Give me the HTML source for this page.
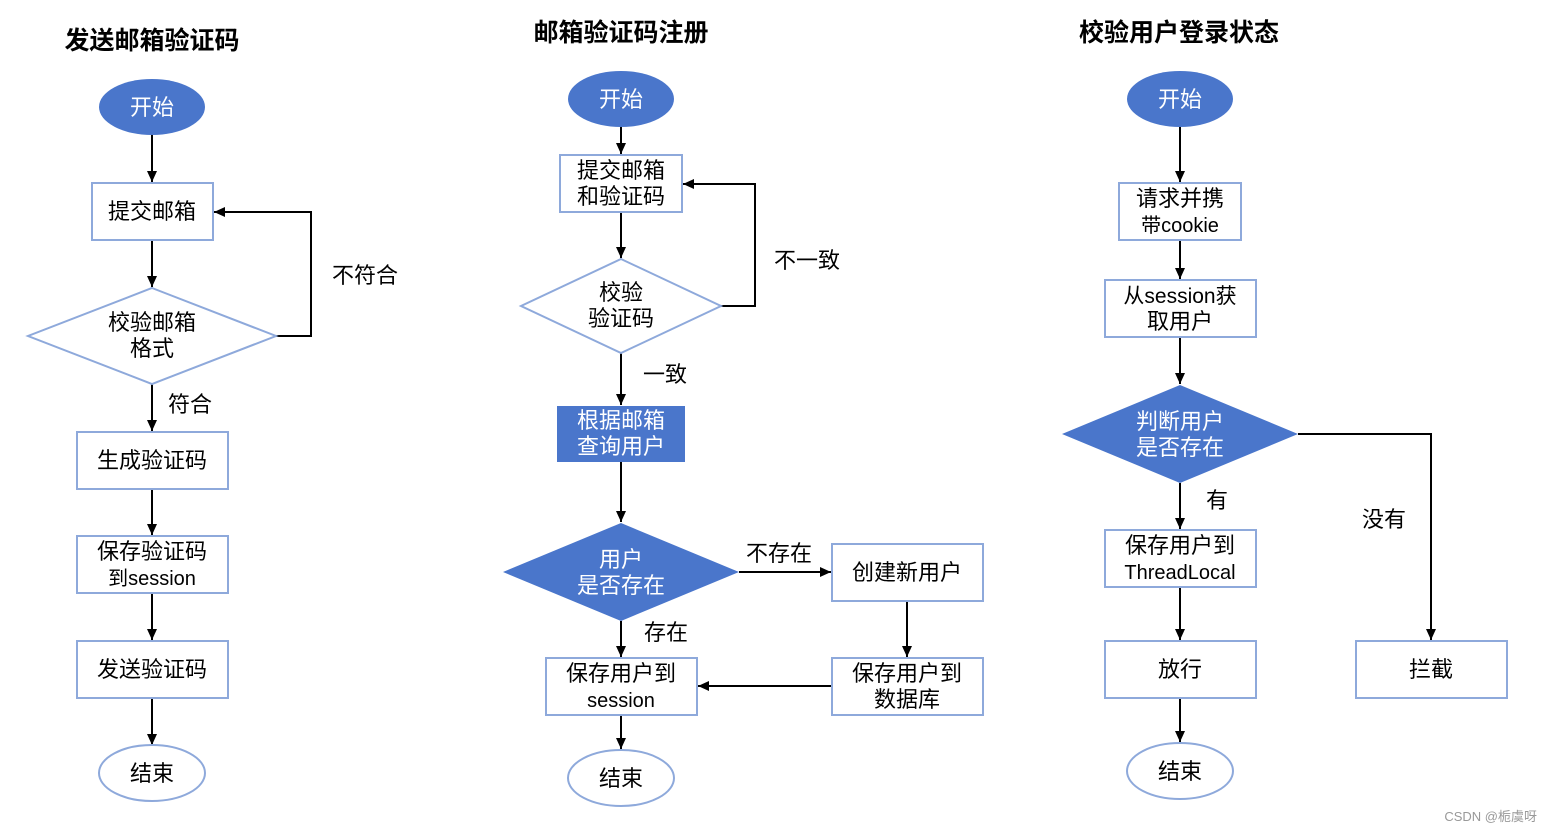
<!DOCTYPE html>
<html><head><meta charset="utf-8"><style>
html,body{margin:0;padding:0;background:#fff;}
svg text{font-family:"Liberation Sans","Noto Sans CJK SC",sans-serif;}
</style></head><body>
<svg width="1553" height="833" viewBox="0 0 1553 833" xmlns="http://www.w3.org/2000/svg">
<defs><marker id="a" markerWidth="12" markerHeight="12" refX="11" refY="6" orient="auto" markerUnits="userSpaceOnUse"><path d="M0,1 L11,6 L0,11 z" fill="#000"/></marker></defs>
<g font-size="25" font-weight="bold" fill="#000">
<text x="152" y="49" text-anchor="middle">发送邮箱验证码</text>
<text x="621" y="41" text-anchor="middle">邮箱验证码注册</text>
<text x="1179" y="41" text-anchor="middle">校验用户登录状态</text>
</g>
<g stroke="#000" stroke-width="2" fill="none" marker-end="url(#a)">
<line x1="152" y1="134" x2="152" y2="182"/>
<line x1="152" y1="240" x2="152" y2="287"/>
<polyline points="276,336 311,336 311,212 214,212"/>
<line x1="152" y1="384" x2="152" y2="431"/>
<line x1="152" y1="489" x2="152" y2="535"/>
<line x1="152" y1="593" x2="152" y2="640"/>
<line x1="152" y1="698" x2="152" y2="745"/>
<line x1="621" y1="126" x2="621" y2="154"/>
<line x1="621" y1="212" x2="621" y2="258"/>
<polyline points="721,306 755,306 755,184 683,184"/>
<line x1="621" y1="353" x2="621" y2="405"/>
<line x1="621" y1="462" x2="621" y2="522"/>
<line x1="739" y1="572" x2="831" y2="572"/>
<line x1="907" y1="601" x2="907" y2="657"/>
<line x1="832" y1="686" x2="698" y2="686"/>
<line x1="621" y1="621" x2="621" y2="657"/>
<line x1="621" y1="715" x2="621" y2="749"/>
<line x1="1180" y1="126" x2="1180" y2="182"/>
<line x1="1180" y1="240" x2="1180" y2="279"/>
<line x1="1180" y1="337" x2="1180" y2="384"/>
<polyline points="1298,434 1431,434 1431,640"/>
<line x1="1180" y1="483" x2="1180" y2="529"/>
<line x1="1180" y1="587" x2="1180" y2="640"/>
<line x1="1180" y1="698" x2="1180" y2="742"/>
</g>
<g fill="#4A76CB">
<ellipse cx="152" cy="107" rx="53" ry="28"/>
<ellipse cx="621" cy="99" rx="53" ry="28"/>
<ellipse cx="1180" cy="99" rx="53" ry="28"/>
<rect x="557" y="406" width="128" height="56"/>
<polygon points="621,523 739,572 621,621 503,572"/>
<polygon points="1180,385 1298,434 1180,483 1062,434"/>
</g>
<g fill="#fff" stroke="#8EA9DB" stroke-width="2">
<rect x="92" y="183" width="121" height="57"/>
<polygon points="152,288 276,336 152,384 28,336"/>
<rect x="77" y="432" width="151" height="57"/>
<rect x="77" y="536" width="151" height="57"/>
<rect x="77" y="641" width="151" height="57"/>
<ellipse cx="152" cy="773" rx="53" ry="28"/>
<rect x="560" y="155" width="122" height="57"/>
<polygon points="621,259 721,306 621,353 521,306"/>
<rect x="832" y="544" width="151" height="57"/>
<rect x="832" y="658" width="151" height="57"/>
<rect x="546" y="658" width="151" height="57"/>
<ellipse cx="621" cy="778" rx="53" ry="28"/>
<rect x="1119" y="183" width="122" height="57"/>
<rect x="1105" y="280" width="151" height="57"/>
<rect x="1105" y="530" width="151" height="57"/>
<rect x="1105" y="641" width="151" height="57"/>
<rect x="1356" y="641" width="151" height="57"/>
<ellipse cx="1180" cy="771" rx="53" ry="28"/>
</g>
<g font-size="22" fill="#fff" text-anchor="middle">
<text x="152" y="115">开始</text>
<text x="621" y="107">开始</text>
<text x="1180" y="107">开始</text>
<text x="621" y="428">根据邮箱</text><text x="621" y="454">查询用户</text>
<text x="621" y="567">用户</text><text x="621" y="593">是否存在</text>
<text x="1180" y="429">判断用户</text><text x="1180" y="455">是否存在</text>
</g>
<g font-size="22" fill="#000" text-anchor="middle">
<text x="152" y="219">提交邮箱</text>
<text x="152" y="330">校验邮箱</text><text x="152" y="356">格式</text>
<text x="152" y="468">生成验证码</text>
<text x="152" y="559">保存验证码</text><text x="152" y="585" font-size="20">到session</text>
<text x="152" y="677">发送验证码</text>
<text x="152" y="781">结束</text>
<text x="621" y="178">提交邮箱</text><text x="621" y="204">和验证码</text>
<text x="621" y="300">校验</text><text x="621" y="326">验证码</text>
<text x="907" y="580">创建新用户</text>
<text x="907" y="681">保存用户到</text><text x="907" y="707">数据库</text>
<text x="621" y="681">保存用户到</text><text x="621" y="707" font-size="20">session</text>
<text x="621" y="786">结束</text>
<text x="1180" y="206">请求并携</text><text x="1180" y="232" font-size="20">带cookie</text>
<text x="1180" y="303" font-size="21">从session获</text><text x="1180" y="329">取用户</text>
<text x="1180" y="553">保存用户到</text><text x="1180" y="579" font-size="20">ThreadLocal</text>
<text x="1180" y="677">放行</text>
<text x="1431" y="677">拦截</text>
<text x="1180" y="779">结束</text>
</g>
<g font-size="22" fill="#000">
<text x="332" y="283">不符合</text>
<text x="168" y="412">符合</text>
<text x="774" y="268">不一致</text>
<text x="643" y="382">一致</text>
<text x="746" y="561">不存在</text>
<text x="644" y="640">存在</text>
<text x="1206" y="508">有</text>
<text x="1362" y="527">没有</text>
</g>
<text x="1537" y="821" font-size="13" fill="#999" text-anchor="end">CSDN @栀虞呀</text>
</svg>
</body></html>
